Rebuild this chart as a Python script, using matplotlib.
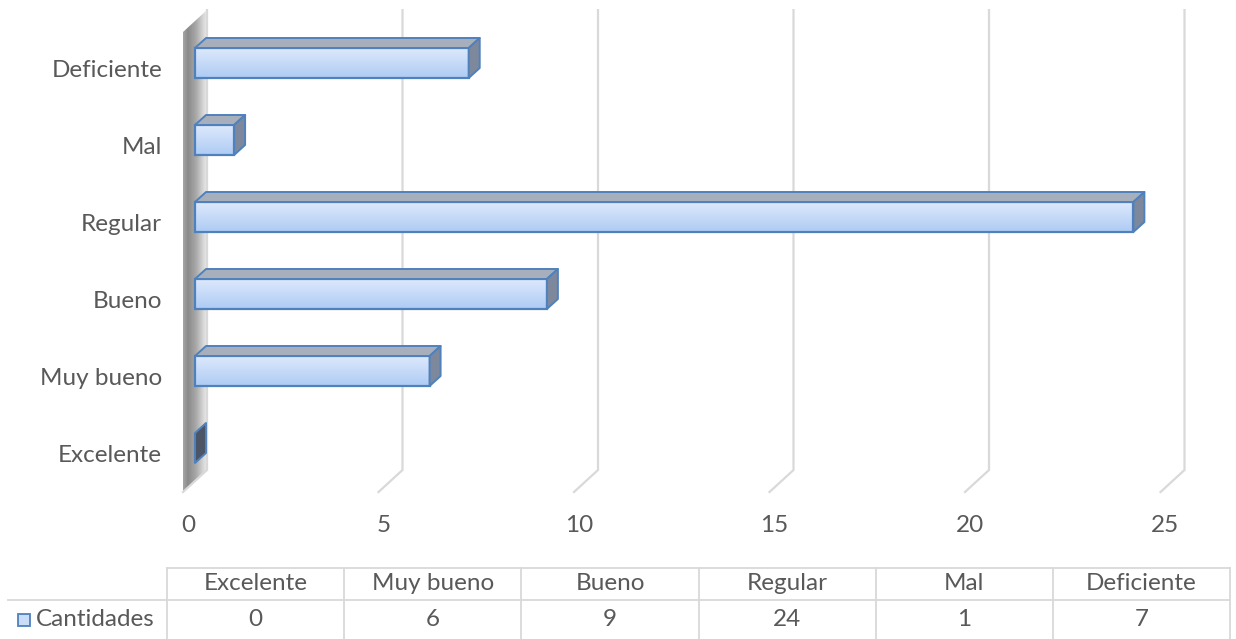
import numpy as np
import matplotlib.pyplot as plt
from matplotlib.patches import Polygon, Rectangle
from matplotlib.colors import LinearSegmentedColormap

plt.rcParams['font.family'] = ['Lato', 'DejaVu Sans']

# datos
categorias = ['Excelente', 'Muy bueno', 'Bueno', 'Regular', 'Mal', 'Deficiente']
cantidades = [0, 6, 9, 24, 1, 7]
serie = 'Cantidades'
ticks_x = [0, 5, 10, 15, 20, 25]

W, H = 1236, 639
fig = plt.figure(figsize=(W / 100, H / 100), dpi=100)

# escala del plano de las barras (pixeles)
x0_px, px_x = 195, 39.1
y0_px, px_y = 448, 77.0
xlim = (-1.0, 26.5)
ylim = (-0.9, 5.7)
left = (x0_px + xlim[0] * px_x) / W
width = (xlim[1] - xlim[0]) * px_x / W
bottom = (H - (y0_px - ylim[0] * px_y)) / H
height = (ylim[1] - ylim[0]) * px_y / H
ax = fig.add_axes([left, bottom, width, height])
ax.set_xlim(*xlim)
ax.set_ylim(*ylim)
ax.axis('off')

text_col = '#595959'
grid_col = '#d9d9d9'
edge_col = '#4f81bd'
fs = 17.5

# profundidad (medio fondo)
hx = 12 / px_x
hy = 11 / px_y
floor = (y0_px - 481) / px_y
top = (y0_px - 10) / px_y

# pared lateral con degradado
wall = Polygon([(-hx, floor - hy), (hx, floor + hy), (hx, top), (-hx, top - 2 * hy)],
               closed=True, facecolor='none', edgecolor='none')
ax.add_patch(wall)
wall_cmap = LinearSegmentedColormap.from_list('wall', [(0, '#a6a6a6'), (0.2, '#8a8a8a'),
                                                     (0.55, '#a9a9a9'), (0.85, '#d6d6d6'),
                                                     (1, '#ececec')])
grad = np.linspace(0, 1, 64).reshape(1, -1)
im = ax.imshow(grad, cmap=wall_cmap, extent=[-hx, hx, floor - hy, top], aspect='auto',
               zorder=1, interpolation='bilinear')
im.set_clip_path(wall)

# lineas de cuadricula
for v in ticks_x:
    ax.plot([v - hx, v + hx, v + hx], [floor - hy, floor + hy, top],
            color=grid_col, lw=1.6, zorder=2, solid_joinstyle='miter')
    ax.text(v - 0.18, (y0_px - 525) / px_y, str(v), ha='center', va='center',
            fontsize=fs, color=text_col)

# barras 3D
bh = 30 / px_y
dx = 11 / px_x
dy = 10 / px_y
bar_cmap = LinearSegmentedColormap.from_list('bar', ['#aecbf4', '#dde9fc'])
ys = np.arange(len(categorias))
bars = ax.barh(ys, cantidades, height=bh, left=0, color='none', edgecolor=edge_col,
               linewidth=1.6, zorder=5)
for y, v, b in zip(ys, cantidades, bars):
    if v > 0:
        g = ax.imshow(np.linspace(0, 1, 64).reshape(-1, 1), cmap=bar_cmap, origin='lower',
                      extent=[0, v, y - bh / 2, y + bh / 2], aspect='auto', zorder=4,
                      interpolation='bilinear')
        g.set_clip_path(b)
        ax.add_patch(Polygon([(0, y + bh / 2), (v, y + bh / 2), (v + dx, y + bh / 2 + dy),
                              (dx, y + bh / 2 + dy)], closed=True, facecolor='#a7afbc',
                             edgecolor=edge_col, lw=1.4, zorder=5, joinstyle='round'))
        side_col = '#7d889c'
    else:
        side_col = '#4b5566'
    ax.add_patch(Polygon([(v, y - bh / 2), (v, y + bh / 2), (v + dx, y + bh / 2 + dy),
                          (v + dx, y - bh / 2 + dy)], closed=True, facecolor=side_col,
                         edgecolor=edge_col, lw=1.4, zorder=5, joinstyle='round'))
    ax.text((162 - x0_px) / px_x, y - 0.1, categorias[y], ha='right', va='center',
            fontsize=fs, color=text_col)

# tabla de datos
tb = fig.add_axes([0, 0, 1, 1], zorder=-1)
tb.set_xlim(0, W)
tb.set_ylim(H, 0)
tb.axis('off')
c0, cw = 167, 177.2
n = len(categorias)
c_end = c0 + cw * n
tb.plot([c0, c_end], [568, 568], color=grid_col, lw=1.3)
tb.plot([8, c_end], [600, 600], color=grid_col, lw=1.3)
for k in range(n + 1):
    tb.plot([c0 + cw * k] * 2, [568, H], color=grid_col, lw=1.3)
for k, (cat, v) in enumerate(zip(categorias, cantidades)):
    cx = c0 + cw * (k + 0.5)
    tb.text(cx, 583, cat, ha='center', va='center', fontsize=fs, color=text_col)
    tb.text(cx, 620, str(v), ha='center', va='center', fontsize=fs, color=text_col)
tb.add_patch(Rectangle((18, 614), 12, 12, facecolor='#c9dcf8', edgecolor=edge_col, lw=1.3))
tb.text(36, 620, serie, ha='left', va='center', fontsize=fs, color=text_col)

fig.savefig('out.png', dpi=100)
